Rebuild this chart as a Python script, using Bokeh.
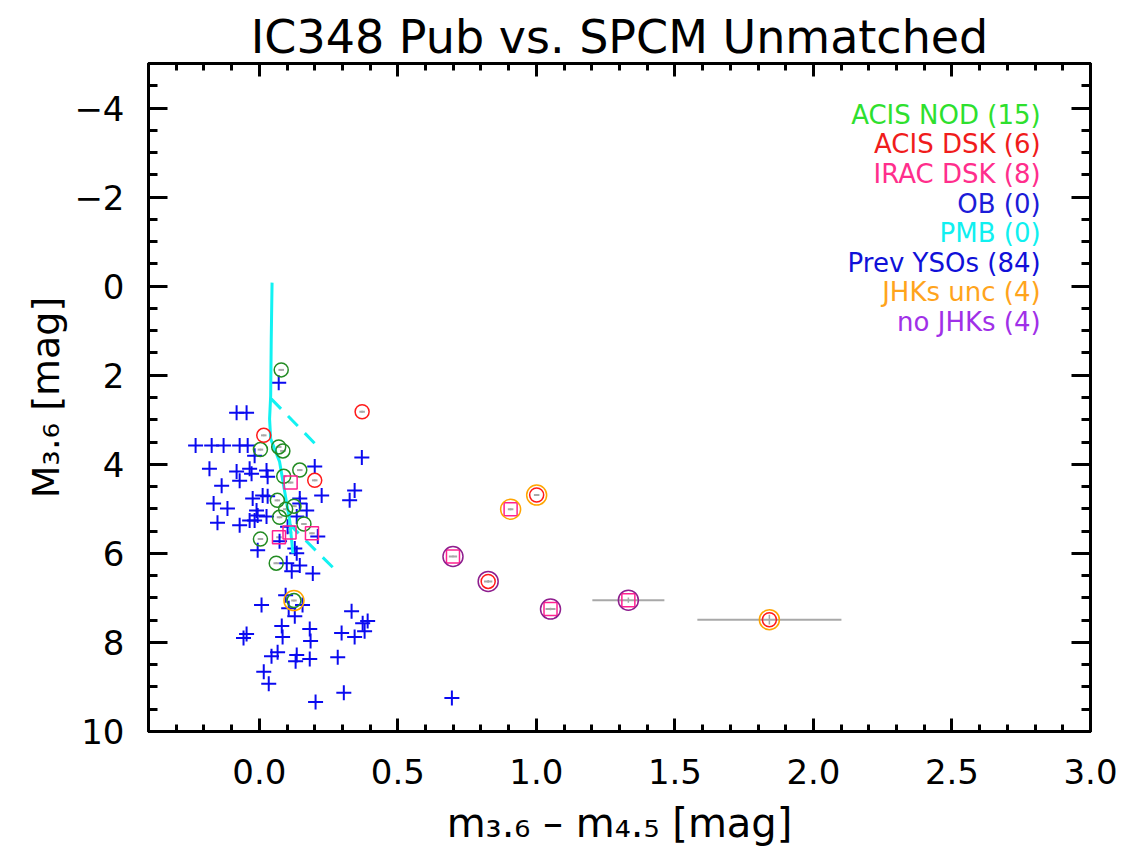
import numpy as np
from bokeh.plotting import figure
from bokeh.models import (Range1d, LinearAxis, FixedTicker, ColumnDataSource,
                          CustomJSTickFormatter)
from bokeh.core.properties import value
from bokeh.embed import file_html
from bokeh.resources import INLINE

# ---------------- data ----------------
title_text = "IC348 Pub vs. SPCM Unmatched"
x_label = "m\u2083.\u2086 \u2013 m\u2084.\u2085 [mag]"
y_label = "M\u2083.\u2086 [mag]"

x_ticks = [0.0, 0.5, 1.0, 1.5, 2.0, 2.5, 3.0]
x_tick_labels = ["0.0", "0.5", "1.0", "1.5", "2.0", "2.5", "3.0"]
y_ticks = [-4, -2, 0, 2, 4, 6, 8, 10]
y_tick_labels = ["\u22124", "\u22122", "0", "2", "4", "6", "8", "10"]

# previously known YSOs (blue plus)
yso_x = [0.070, -0.082, -0.046, -0.230, -0.172, -0.129, -0.071, -0.042, -0.017, 0.370,
         0.200, 0.026, -0.035, -0.082, -0.071, -0.028, 0.030, 0.225, 0.344, 0.326,
         -0.024, 0.012, 0.030, 0.146, 0.146, -0.010, -0.006, -0.017, -0.035, 0.026,
         0.171, 0.135, -0.071, 0.102, -0.006, 0.073, 0.128, 0.135, 0.211, 0.099,
         0.146, 0.117, 0.193, -0.180, -0.136, -0.165, -0.115, -0.151,
         0.095, 0.008, 0.156, 0.128, 0.106, 0.333, 0.373, 0.391, 0.380, 0.344,
         0.297, 0.081, 0.182, 0.084, -0.046, -0.057, 0.185, 0.066, 0.044, 0.135,
         0.131, 0.182, 0.283, 0.016, 0.034, 0.305, 0.203, 0.695]
yso_y = [2.17, 2.84, 2.84, 3.58, 3.58, 3.58, 3.58, 3.58, 3.81, 3.85,
         4.05, 4.14, 4.10, 4.16, 4.37, 4.21, 4.28, 4.70, 4.59, 4.81,
         4.77, 4.70, 4.72, 4.77, 4.88, 5.04, 5.15, 5.26, 5.26, 5.17,
         5.04, 5.17, 5.37, 5.40, 5.93, 5.73, 5.89, 6.00, 5.62, 6.22,
         6.27, 6.40, 6.45, 4.10, 4.48, 4.88, 4.99, 5.31,
         6.94, 7.16, 7.16, 7.41, 7.23, 7.30, 7.57, 7.52, 7.75, 7.88,
         7.79, 7.63, 7.70, 7.88, 7.81, 7.90, 7.97, 8.22, 8.31, 8.28,
         8.42, 8.37, 8.33, 8.66, 8.93, 9.13, 9.34, 9.25]

# ACIS NOD (green circles)
nod_x = [0.079, 0.004, 0.070, 0.085, 0.146, 0.088, 0.065, 0.125, 0.095, 0.073,
         0.161, 0.004, 0.061, 0.125]
nod_y = [1.88, 3.67, 3.61, 3.70, 4.13, 4.27, 4.81, 4.94, 5.01, 5.19,
         5.34, 5.68, 6.22, 7.06]
nod_xerr = [0.01] * 14
nod_yerr = [0.02] * 14

# ACIS DSK (red circles)
dsk_x = [0.371, 0.016, 0.200, 1.001, 0.826, 1.841]
dsk_y = [2.82, 3.35, 4.36, 4.69, 6.63, 7.49]
dsk_xerr = [0.01, 0.01, 0.01, 0.01, 0.015, 0.26]
dsk_yerr = [0.02, 0.02, 0.02, 0.02, 0.03, 0.11]

# IRAC DSK (pink squares)
irac_x = [0.113, 0.071, 0.109, 0.190, 0.907, 0.699, 1.051, 1.332]
irac_y = [4.41, 5.64, 5.53, 5.55, 5.01, 6.07, 7.25, 7.05]
irac_xerr = [0.01, 0.01, 0.01, 0.01, 0.01, 0.015, 0.018, 0.13]
irac_yerr = [0.02, 0.02, 0.02, 0.02, 0.02, 0.02, 0.03, 0.06]

# JHKs uncertain (orange rings)
unc_x = [0.125, 1.001, 0.907, 1.841]
unc_y = [7.06, 4.69, 5.01, 7.49]

# no JHKs (purple rings)
nojhk_x = [0.699, 0.826, 1.051, 1.332]
nojhk_y = [6.07, 6.63, 7.25, 7.05]

# PMB model track (cyan) and reddening vectors (dashed)
iso_x = [0.046, 0.043, 0.041, 0.037, 0.041, 0.073, 0.100, 0.110, 0.121]
iso_y = [-0.08, 1.20, 2.46, 2.98, 3.43, 3.94, 4.92, 5.28, 6.00]
red1_x = [0.043, 0.211]
red1_y = [2.53, 3.60]
red2_x = [0.106, 0.279]
red2_y = [5.33, 6.40]

legend_names = ["ACIS NOD", "ACIS DSK", "IRAC DSK", "OB", "PMB", "Prev YSOs", "JHKs unc", "no JHKs"]
legend_counts = [15, 6, 8, 0, 0, 84, 4, 4]
legend_colors = ["#2ee02e", "#f01c1c", "#ff2e8c", "#1c1cd8", "#10f0f0", "#1010d8", "#ffa41c", "#a030e8"]

# ---------------- figure ----------------
FONT = "DejaVu Sans"
p = figure(width=1120, height=848, x_range=Range1d(-0.4, 3.0), y_range=Range1d(10, -5),
           output_backend="svg", toolbar_location=None, title=title_text)
p.title.align = "center"
p.title.text_font = FONT
p.title.text_font_size = "46px"
p.title.text_font_style = "normal"
p.title.text_color = "black"
p.title.standoff = 0
p.min_border_left = 148
p.min_border_right = 30
p.min_border_top = 63
p.min_border_bottom = 116
p.xgrid.visible = False
p.ygrid.visible = False
p.outline_line_color = "black"
p.outline_line_width = 3
p.background_fill_color = "white"
p.border_fill_color = "white"

x_minor = [round(v, 2) for v in np.arange(-0.4, 3.0001, 0.1)]
y_minor = [round(v, 2) for v in np.arange(-5.0, 10.001, 0.5)]

xa = p.xaxis[0]
ya = p.yaxis[0]
xa.ticker = FixedTicker(ticks=x_ticks, minor_ticks=x_minor)
ya.ticker = FixedTicker(ticks=y_ticks, minor_ticks=y_minor)
xa.major_label_overrides = dict(zip(x_ticks, x_tick_labels))
ya.major_label_overrides = dict(zip(y_ticks, y_tick_labels))
xa.axis_label = x_label
ya.axis_label = y_label

blank = CustomJSTickFormatter(code="return '';")
xt = LinearAxis(ticker=FixedTicker(ticks=x_ticks, minor_ticks=x_minor), formatter=blank)
yr = LinearAxis(ticker=FixedTicker(ticks=y_ticks, minor_ticks=y_minor), formatter=blank)
p.add_layout(xt, "above")
p.add_layout(yr, "right")

for ax in (xa, xt):
    ax.major_tick_in = 13
    ax.minor_tick_in = 7
for ax in (ya, yr):
    ax.major_tick_in = 19
    ax.minor_tick_in = 9
for ax in (xa, xt, ya, yr):
    ax.major_tick_out = 0
    ax.minor_tick_out = 0
    ax.axis_line_width = 3
    ax.major_tick_line_width = 3
    ax.minor_tick_line_width = 3
    ax.axis_line_color = "black"
    ax.major_tick_line_color = "black"
    ax.minor_tick_line_color = "black"
    ax.major_label_text_font = FONT
    ax.major_label_text_font_size = "34px"
    ax.major_label_text_color = "black"
    ax.axis_label_text_font = FONT
    ax.axis_label_text_font_style = "normal"
    ax.axis_label_text_color = "black"
xa.axis_label_text_font_size = "40px"
ya.axis_label_text_font_size = "38px"
xa.major_label_standoff = 27
ya.major_label_standoff = 24
xa.axis_label_standoff = 13
ya.axis_label_standoff = 3
xt.major_label_standoff = 8
yr.major_label_standoff = 0
xt.major_label_text_font_size = "1px"
yr.major_label_text_font_size = "1px"

# ---------------- glyphs ----------------
gray = "#a8a8a8"
for ex, ey, exr, eyr in ((nod_x, nod_y, nod_xerr, nod_yerr),
                         (dsk_x, dsk_y, dsk_xerr, dsk_yerr),
                         (irac_x, irac_y, irac_xerr, irac_yerr)):
    ex = np.array(ex); ey = np.array(ey); exr = np.array(exr); eyr = np.array(eyr)
    p.segment(x0=ex - exr, x1=ex + exr, y0=ey, y1=ey, line_color=gray, line_width=2)
    p.segment(x0=ex, x1=ex, y0=ey - eyr, y1=ey + eyr, line_color=gray, line_width=1.5)

p.scatter(yso_x, yso_y, marker="cross", size=15, line_color="#0a0af0", line_width=2)

p.line(iso_x, iso_y, line_color="#12f2f2", line_width=3)
p.line(red1_x, red1_y, line_color="#12f2f2", line_width=3, line_dash="14 10")
p.line(red2_x, red2_y, line_color="#12f2f2", line_width=3, line_dash="14 10")

p.scatter(nod_x, nod_y, marker="circle", size=14, fill_color=None, line_color="#228b22", line_width=1.5)
p.scatter(dsk_x, dsk_y, marker="circle", size=14, fill_color=None, line_color="#ff1a1a", line_width=1.5)
p.scatter(irac_x, irac_y, marker="square", size=13, fill_color=None, line_color="#ff2090", line_width=1.5)
p.scatter(unc_x, unc_y, marker="circle", size=20, fill_color=None, line_color="#ffa500", line_width=1.5)
p.scatter(nojhk_x, nojhk_y, marker="circle", size=20, fill_color=None, line_color="#8e1e8e", line_width=1.5)

# legend as right-aligned coloured text
leg_src = ColumnDataSource(dict(
    x=[2.82] * len(legend_names),
    y=[-3.85 + 0.665 * i for i in range(len(legend_names))],
    t=["%s (%d)" % (n, c) for n, c in zip(legend_names, legend_counts)],
    c=legend_colors))
p.text(x="x", y="y", text="t", text_color="c", source=leg_src, text_align="right",
       text_baseline="middle", text_font=value(FONT), text_font_size="26px")

open("out.html", "w").write(file_html(p, INLINE))
